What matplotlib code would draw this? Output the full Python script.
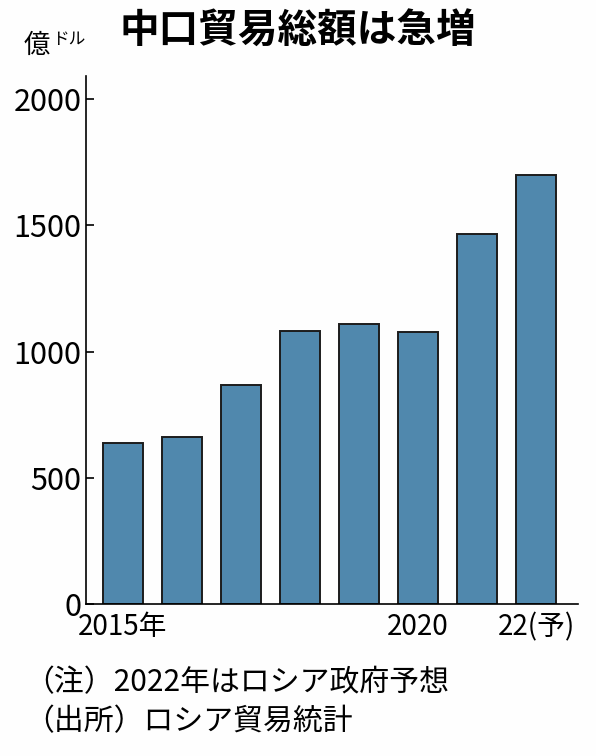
import matplotlib
matplotlib.use("Agg")
import matplotlib.pyplot as plt

years = ["2015年", "", "", "", "", "2020", "", "22(予)"]
values = [636, 662, 869, 1080, 1108, 1077, 1467, 1700]
yticks = [0, 500, 1000, 1500, 2000]

JP_FONT = ["Noto Sans CJK JP", "DejaVu Sans"]

fig = plt.figure(figsize=(5.96, 7.56), dpi=100)
fig.patch.set_facecolor("#fefefe")
ax = fig.add_axes([0.144, 0.201, 0.826, 0.698])
ax.set_facecolor("#fefefe")

x = list(range(len(values)))
ax.bar(x, values, width=0.67, color="#5088ad", edgecolor="#1c1c1c", linewidth=1.4)

ax.set_xlim(-0.63, 7.71)
ax.set_ylim(0, 2090)
ax.set_yticks(yticks)
ax.set_yticklabels([str(t) for t in yticks], family=JP_FONT, fontsize=22)
ax.set_xticks(x)
ax.set_xticklabels(years, family=JP_FONT, fontsize=20)
ax.tick_params(axis="y", direction="in", length=6, width=1.2, pad=3)
ax.tick_params(axis="x", length=0, pad=6)

for side in ["top", "right"]:
    ax.spines[side].set_visible(False)
ax.spines["left"].set_linewidth(1.2)
ax.spines["bottom"].set_linewidth(1.2)

fig.text(0.50, 0.958, "中口貿易総額は急増", family=JP_FONT, fontsize=28.5,
         fontweight="bold", ha="center", va="center")
fig.text(0.040, 0.940, "億", family=JP_FONT, fontsize=19, ha="left", va="center")
fig.text(0.087, 0.948, "ドル", family=JP_FONT, fontsize=12, ha="left", va="center")

fig.text(0.040, 0.097, "（注）2022年はロシア政府予想", family=JP_FONT, fontsize=21.5,
         ha="left", va="center")
fig.text(0.040, 0.045, "（出所）ロシア貿易統計", family=JP_FONT, fontsize=21.5,
         ha="left", va="center")

fig.savefig("out.png", dpi=100, facecolor=fig.get_facecolor())
